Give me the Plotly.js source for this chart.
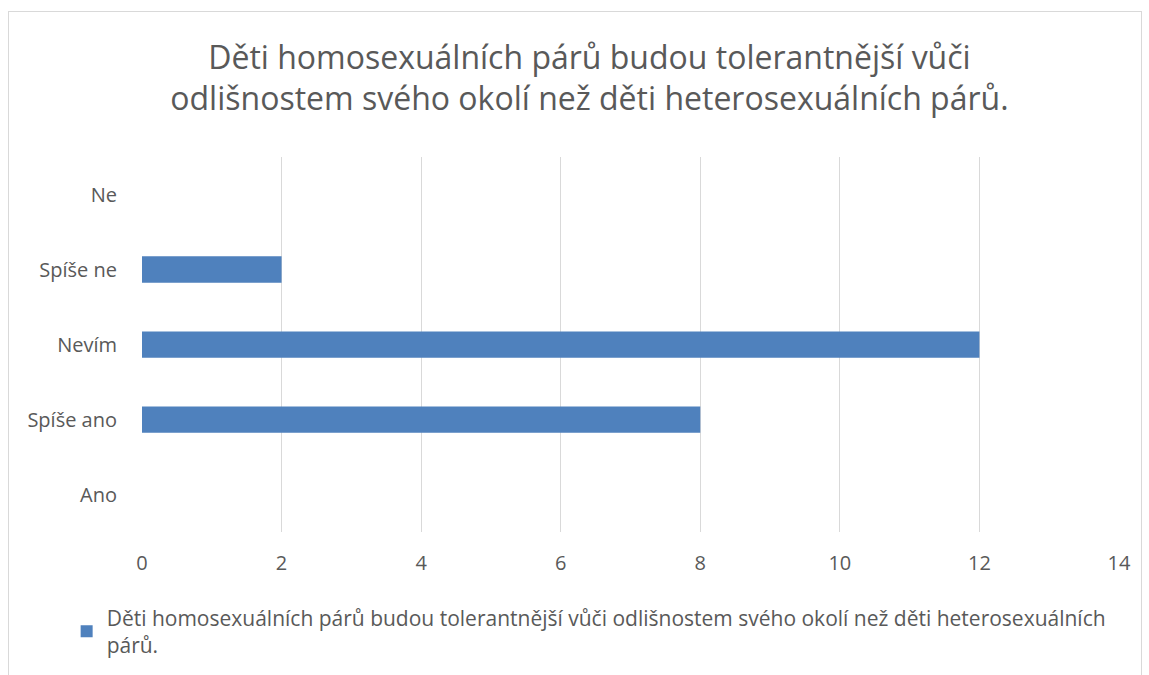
<!DOCTYPE html>
<html>
<head>
<meta charset="utf-8">
<script src="https://cdn.plot.ly/plotly-3.0.1.min.js"></script>
<style>
  html, body { margin: 0; padding: 0; background: #fff; }
  #wrap { position: relative; width: 1149px; height: 675px; }
  #chart { width: 1149px; height: 675px; }
  #frame { position: absolute; left: 8px; top: 11px; width: 1132px; height: 700px;
           border: 1px solid #d9d9d9; pointer-events: none; }
</style>
</head>
<body>
<div id="wrap">
  <div id="chart"></div>
  <div id="frame"></div>
</div>
<script>
const categories = ["Ano", "Spíše ano", "Nevím", "Spíše ne", "Ne"];
const values = [0, 8, 12, 2, 0];
const seriesName = "Děti homosexuálních párů budou tolerantnější vůči odlišnostem svého okolí než děti heterosexuálních<br>párů.";
const titleText = "Děti homosexuálních párů budou tolerantnější vůči<br>odlišnostem svého okolí než děti heterosexuálních párů.";
const xTicks = [0, 2, 4, 6, 8, 10, 12, 14];

const FONT = "Open Sans, Noto Sans, sans-serif";
const TXT = "#595959";

Plotly.newPlot("chart", [{
  type: "bar",
  orientation: "h",
  y: categories,
  x: values,
  name: seriesName,
  marker: { color: "#4f81bd", line: { width: 0 } },
  showlegend: true,
  hoverinfo: "x+y"
}], {
  width: 1149, height: 675,
  margin: { l: 142, r: 30, t: 157, b: 143 },
  paper_bgcolor: "#ffffff",
  plot_bgcolor: "#ffffff",
  font: { family: FONT, color: TXT },
  bargap: 0.65,
  title: {
    text: titleText,
    font: { family: FONT, size: 32, color: TXT },
    x: 0.513, xref: "container", xanchor: "center",
    y: 0.898, yref: "container", yanchor: "bottom"
  },
  xaxis: {
    range: [0, 14],
    tickvals: xTicks,
    showgrid: true, gridcolor: "#d9d9d9", gridwidth: 1,
    zeroline: false, showline: false,
    ticks: "outside", ticklen: 13, tickcolor: "rgba(0,0,0,0)",
    tickfont: { family: FONT, size: 20, color: TXT }
  },
  yaxis: {
    type: "category",
    categoryorder: "array", categoryarray: categories,
    showgrid: false, zeroline: false, showline: false,
    ticks: "outside", ticklen: 20, tickcolor: "rgba(0,0,0,0)",
    tickfont: { family: FONT, size: 20, color: TXT }
  },
  showlegend: true,
  legend: {
    orientation: "h",
    xref: "container", yref: "container",
    x: 0.058, xanchor: "left",
    y: 0.115, yanchor: "top",
    font: { family: FONT, size: 21, color: TXT },
    itemwidth: 30
  }
}, { displayModeBar: false });
</script>
</body>
</html>
